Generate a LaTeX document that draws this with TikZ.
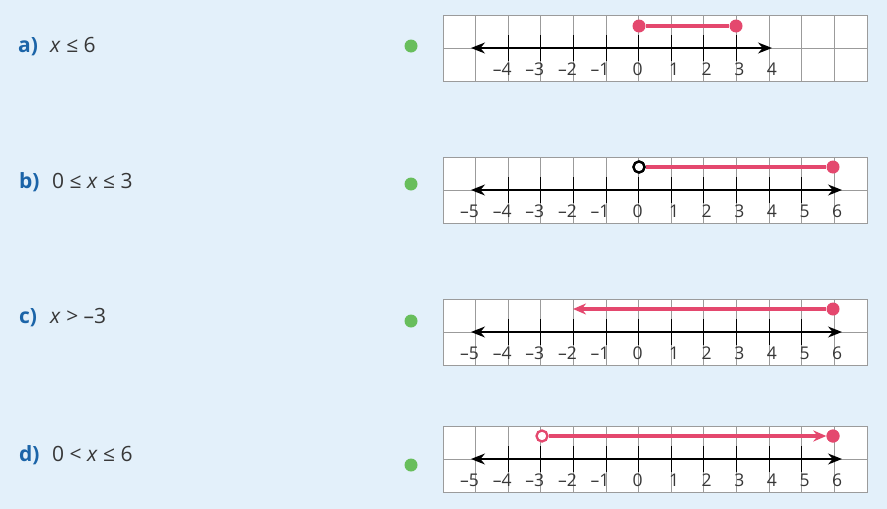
\documentclass[tikz,border=0pt]{standalone}
\usepackage{fontspec}
\setmainfont{Open Sans}
\usetikzlibrary{arrows.meta}
\definecolor{bg}{RGB}{227,240,250}
\definecolor{lblue}{RGB}{27,100,168}
\definecolor{rd}{RGB}{228,72,110}
\definecolor{gr}{RGB}{104,190,92}
\definecolor{gridc}{RGB}{155,155,155}
\definecolor{txt}{RGB}{55,55,55}
\tikzset{
  gridline/.style={draw=gridc, line width=1pt},
  axisline/.style={line width=1.3pt, black, {Stealth[length=14pt,width=11pt]}-{Stealth[length=14pt,width=11pt]}},
  tickline/.style={line width=1.1pt, black},
  numlab/.style={inner sep=0pt, text=txt, font=\fontsize{17.5}{19}\selectfont},
  redline/.style={draw=rd, line width=3.4pt},
  fdot/.style={circle, fill=rd, inner sep=0pt, minimum size=13pt},
  odot/.style={circle, fill=white, draw=#1, line width=2.3pt, inner sep=0pt, minimum size=11pt},
  gdot/.style={circle, fill=gr, inner sep=0pt, minimum size=13pt},
  partlab/.style={inner sep=0pt, anchor=base west, text=lblue, font=\fontsize{21}{23}\selectfont\bfseries},
  exprlab/.style={inner sep=0pt, anchor=base west, text=txt, font=\fontsize{21}{23}\selectfont},
}
\newcommand\gridpanel[1]{%
  \draw[gridline, fill=white] (443,#1) rectangle (867,#1+66);
  \foreach \i in {1,...,12} \draw[gridline] (443+32.615*\i,#1) -- (443+32.615*\i,#1+66);
  \draw[gridline] (443,#1+33) -- (867,#1+33);
}
\newcommand\ticks[3]{% y, kmin, kmax
  \foreach \k in {#2,...,#3} \draw[tickline] (638.69+32.615*\k,#1-13) -- (638.69+32.615*\k,#1+13);
}
\newcommand\labs[3]{% y, prefix, max positive
  \foreach \k in {1,...,#3} \node[numlab, anchor=base] (#2p\k) at (641.5+32.615*\k,#1+27) {\k};
  \node[numlab, anchor=base] (#2z) at (637.5,#1+27) {0};
}
\begin{document}
\begin{tikzpicture}[x=1pt,y=-1pt]
\fill[bg] (0,0) rectangle (887,509);
\useasboundingbox (0,0) rectangle (887,509);

% ---------- labels on the left
\node[partlab] (pa) at (18,52) {a)};
\node[exprlab] (ea) at (50,52) {\textit{x} ≤ 6};
\node[partlab] (pb) at (19,188) {b)};
\node[exprlab] (eb) at (52,188) {0 ≤ \textit{x} ≤ 3};
\node[partlab] (pc) at (19,323) {c)};
\node[exprlab] (ec) at (50,323) {\textit{x} > –3};
\node[partlab] (pd) at (19,461) {d)};
\node[exprlab] (ed) at (52,461) {0 < \textit{x} ≤ 6};

% ---------- green dots
\node[gdot] (ga) at (411,46) {};
\node[gdot] (gb) at (411,184) {};
\node[gdot] (gc) at (411,321) {};
\node[gdot] (gd) at (411,465) {};

% ---------- panel a
\gridpanel{15}
\coordinate (aL) at (471,48);
\coordinate (aR) at (772,48);
\draw[axisline] (aL) -- (aR);
\ticks{48}{-4}{3}
\labs{48}{a}{4}
\foreach \k in {1,...,4} \node[numlab, anchor=base east] (am\k) at (642.19-32.615*\k,75) {–\k};
\node[fdot] (a0) at (639,26) {};
\node[fdot] (a3) at (736,26) {};
\draw[redline] (a0) -- (a3);

% ---------- panel b
\gridpanel{157}
\coordinate (bL) at (471,190);
\coordinate (bR) at (842,190);
\draw[axisline] (bL) -- (bR);
\ticks{190}{-4}{5}
\labs{190}{b}{6}
\foreach \k in {1,...,5} \node[numlab, anchor=base east] (bm\k) at (642.19-32.615*\k,217) {–\k};
\node[odot=black] (b0) at (639,167) {};
\node[fdot] (b6) at (833,167) {};
\draw[redline] (b0) -- (b6);
\node[odot=black] at (639,167) {};

% ---------- panel c
\gridpanel{299}
\coordinate (cL) at (471,332);
\coordinate (cR) at (842,332);
\draw[axisline] (cL) -- (cR);
\ticks{332}{-4}{5}
\labs{332}{c}{6}
\foreach \k in {1,...,5} \node[numlab, anchor=base east] (cm\k) at (642.19-32.615*\k,359) {–\k};
\node[fdot] (c6) at (833,309) {};
\coordinate (cT) at (573,309);
\draw[redline, -{Stealth[length=13pt,width=11pt]}] (c6) -- (cT);

% ---------- panel d
\gridpanel{426}
\coordinate (dL) at (471,459);
\coordinate (dR) at (842,459);
\draw[axisline] (dL) -- (dR);
\ticks{459}{-4}{5}
\labs{459}{d}{6}
\foreach \k in {1,...,5} \node[numlab, anchor=base east] (dm\k) at (642.19-32.615*\k,486) {–\k};
\node[odot=rd] (dm3c) at (542,436) {};
\node[fdot] (d6) at (833,436) {};
\draw[redline, -{Stealth[length=13pt,width=11pt]}] (dm3c) -- (d6);
\node[fdot] at (833,436) {};
\end{tikzpicture}
\end{document}
